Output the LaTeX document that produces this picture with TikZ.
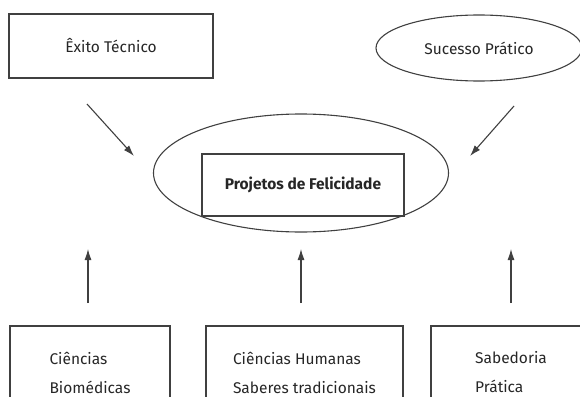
\documentclass[tikz,border=0pt]{standalone}
\usepackage{fontspec}
\setmainfont{Fira Sans}
\usetikzlibrary{shapes.geometric,arrows.meta}
\begin{document}
\begin{tikzpicture}[x=1pt,y=-1pt,line width=1.1pt,
  every node/.style={draw=black!75,text=black!85,font=\fontsize{15.5}{29}\selectfont},
  >={Latex[length=11pt,width=7pt]}]
\useasboundingbox (0,0) rectangle (580,396);
\clip (0,0) rectangle (580,396);
\node[minimum width=204,minimum height=64] (exito) at (111,46) {Êxito Técnico};
\node[ellipse,minimum width=206,minimum height=66] (sucesso) at (479,48) {Sucesso Prático};
\node[ellipse,minimum width=295,minimum height=118] (felic) at (301,173) {};
\node[minimum width=202,minimum height=62,font=\fontsize{15.5}{18}\selectfont\bfseries] (proj) at (303,185) {Projetos de Felicidade};
\node[minimum width=160,minimum height=93,align=left] (bio) at (90,372.5) {Ciências\\Biomédicas};
\node[minimum width=197,minimum height=93,align=left] (hum) at (304.5,372.5) {Ciências Humanas\\Saberes tradicionais};
\node[minimum width=160,minimum height=93,align=left] (sab) at (511,372.5) {Sabedoria\\Prática};
\coordinate (a0) at (87,104);
\coordinate (a1) at (134,156);
\coordinate (a2) at (514,106);
\coordinate (a3) at (470,156);
\coordinate (b0) at (88,303);
\coordinate (b1) at (88,249);
\coordinate (b2) at (301,303);
\coordinate (b3) at (301,249);
\coordinate (b4) at (511,303);
\coordinate (b5) at (511,249);
\draw[->,black!75] (a0) -- (a1);
\draw[->,black!75] (a2) -- (a3);
\draw[->,black!75] (b0) -- (b1);
\draw[->,black!75] (b2) -- (b3);
\draw[->,black!75] (b4) -- (b5);
\end{tikzpicture}
\end{document}
